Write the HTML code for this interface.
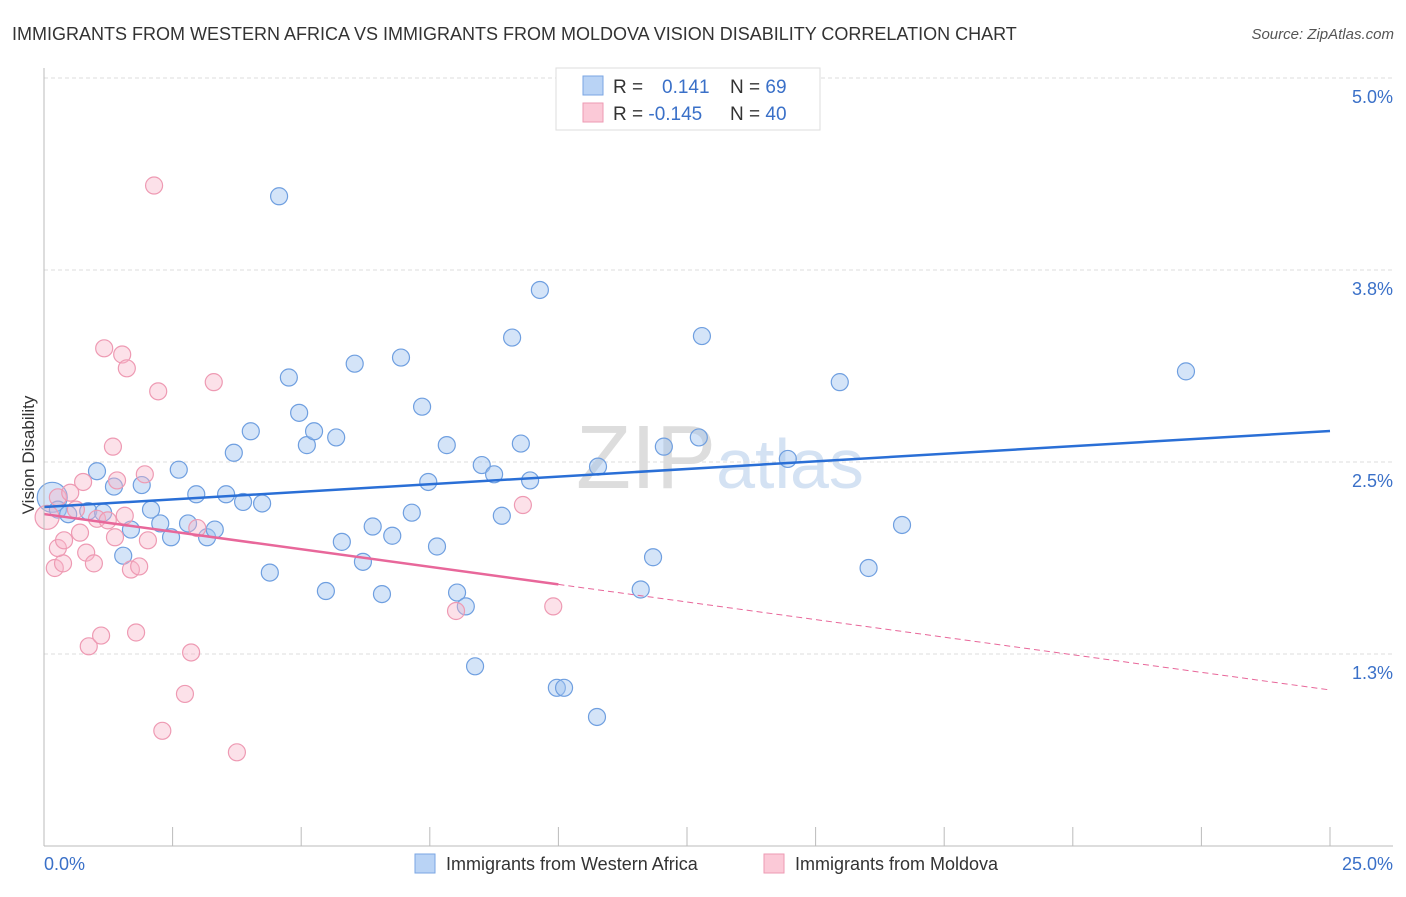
<!DOCTYPE html>
<html><head><meta charset="utf-8"><style>
body{margin:0;background:#fff;font-family:"Liberation Sans",sans-serif;}
svg text{font-family:"Liberation Sans",sans-serif;}
</style></head><body>
<svg width="1406" height="892" id="c">
<text x="12" y="40" font-size="18" fill="#333">IMMIGRANTS FROM WESTERN AFRICA VS IMMIGRANTS FROM MOLDOVA VISION DISABILITY CORRELATION CHART</text>
<text x="1394" y="39" font-size="15" fill="#555" font-style="italic" text-anchor="end">Source: ZipAtlas.com</text>
<text x="720" y="488" font-size="90" fill="#e3e3e3" text-anchor="middle" font-family="Liberation Serif"><tspan fill="#dddddd">ZIP</tspan><tspan fill="#d4e2f3" font-family="Liberation Sans" font-size="70">atlas</tspan></text>
<text transform="translate(34,455) rotate(-90)" font-size="17" fill="#333" text-anchor="middle">Vision Disability</text>
<g id="grid"></g><g id="pts"></g><g id="lines"></g>
<line x1="44" y1="68" x2="44" y2="846" stroke="#bbb"/>
<line x1="44" y1="846" x2="1393" y2="846" stroke="#bbb"/>
<text x="44" y="870" font-size="18" fill="#3a70c8">0.0%</text>
<text x="1393" y="870" font-size="18" fill="#3a70c8" text-anchor="end">25.0%</text>
<g>
<rect x="556" y="68" width="264" height="62" fill="#fff" stroke="#ddd"/>
<rect x="583" y="76" width="20" height="19" fill="#b9d3f5" stroke="#7aa6e3"/>
<rect x="583" y="103" width="20" height="19" fill="#fbc9d7" stroke="#ee9ab3"/>
<text x="613" y="93" font-size="19" fill="#333">R = <tspan fill="#3a70c8" x="662">0.141</tspan><tspan x="730" fill="#333">N = </tspan><tspan fill="#3a70c8">69</tspan></text>
<text x="613" y="120" font-size="19" fill="#333">R = <tspan fill="#3a70c8">-0.145</tspan><tspan x="730" fill="#333">N = </tspan><tspan fill="#3a70c8">40</tspan></text>
</g>
<g>
<rect x="415" y="854" width="20" height="19" fill="#b9d3f5" stroke="#7aa6e3"/>
<text x="446" y="870" font-size="18" fill="#333">Immigrants from Western Africa</text>
<rect x="764" y="854" width="20" height="19" fill="#fbc9d7" stroke="#ee9ab3"/>
<text x="795" y="870" font-size="18" fill="#333">Immigrants from Moldova</text>
</g>
</svg>
<script>
const yTicks=[1.25,2.5,3.75,5.0];
const yTickLabels=["1.3%","2.5%","3.8%","5.0%"];
const xTicks=[0,2.5,5,7.5,10,12.5,15,17.5,20,22.5,25];
const blueX=[0.16,0.27,0.47,0.86,1.03,1.15,1.36,1.54,1.69,1.9,2.08,2.26,2.47,2.62,2.8,2.96,3.17,3.32,3.54,3.69,3.87,4.02,4.24,4.39,4.57,4.76,4.96,5.11,5.25,5.48,5.68,5.79,6.04,6.2,6.39,6.57,6.77,6.94,7.15,7.35,7.47,7.64,7.83,8.03,8.2,8.38,8.51,8.75,8.9,9.1,9.27,9.45,9.64,9.97,10.11,10.75,10.77,11.6,11.84,12.05,12.73,12.79,13.4,14.46,15.47,16.03,16.68,22.2];
const blueY=[2.27,2.19,2.16,2.18,2.44,2.17,2.34,1.89,2.06,2.35,2.19,2.10,2.01,2.45,2.10,2.29,2.01,2.06,2.29,2.56,2.24,2.70,2.23,1.78,4.23,3.05,2.82,2.61,2.70,1.66,2.66,1.98,3.14,1.85,2.08,1.64,2.02,3.18,2.17,2.86,2.37,1.95,2.61,1.65,1.56,1.17,2.48,2.42,2.15,3.31,2.62,2.38,3.62,1.03,1.03,0.84,2.47,1.67,1.88,2.60,2.66,3.32,4.75,2.52,3.02,1.81,2.09,3.09];
const pinkX=[0.06,0.21,0.27,0.37,0.27,0.39,0.51,0.62,0.7,0.76,0.82,0.87,0.97,1.03,1.11,1.17,1.24,1.34,1.38,1.42,1.52,1.57,1.61,1.69,1.79,1.85,1.96,2.02,2.14,2.22,2.3,2.74,2.86,2.98,3.3,3.75,8.01,9.31,9.9];
const pinkY=[2.14,1.81,2.27,1.84,1.94,1.99,2.30,2.19,2.04,2.37,1.91,1.30,1.84,2.13,1.37,3.24,2.12,2.60,2.01,2.38,3.20,2.15,3.11,1.80,1.39,1.82,2.42,1.99,4.30,2.96,0.75,0.99,1.26,2.07,3.02,0.61,1.53,2.22,1.56];
const blueTrend=[2.207,2.702];
const pinkTrend=[2.161,1.016];
const pinkSolidEnd=10;
const X=v=>44+v/25*1286, Y=v=>846-v/5*768;
const NS="http://www.w3.org/2000/svg";
function mk(t,a,p){const e=document.createElementNS(NS,t);for(const k in a)e.setAttribute(k,a[k]);p.appendChild(e);return e;}
const g=document.getElementById('grid');
yTicks.forEach((v,i)=>{
 const l=mk('line',{x1:44,x2:1393,y1:Y(v),y2:Y(v),stroke:'#ddd','stroke-dasharray':'4,3'},g);
 
 
 const t=mk('text',{x:1393,y:Y(v)+25,'font-size':18,fill:'#3a70c8','text-anchor':'end'},g);
 t.textContent=yTickLabels[i];
 
 
});
xTicks.forEach(v=>{
 const l=mk('line',{x1:X(v),x2:X(v),y1:827,y2:846,stroke:'#bbb'},g);
 
 
});
const p=document.getElementById('pts');
blueX.forEach((x,i)=>{
 const c=mk('circle',{cx:X(x),cy:Y(blueY[i]),r:i==0?15:8.5,fill:'rgba(160,195,240,0.45)',stroke:'#6f9fe0','stroke-width':1.2},p);
 
 
});
pinkX.forEach((x,i)=>{
 const c=mk('circle',{cx:X(x),cy:Y(pinkY[i]),r:i==0?12:8.5,fill:'rgba(248,180,200,0.4)',stroke:'#ee9ab3','stroke-width':1.2},p);
 
 
});
const L=document.getElementById('lines');
let b=mk('line',{x1:X(0),y1:Y(blueTrend[0]),x2:X(25),y2:Y(blueTrend[1]),stroke:'#2a6fd6','stroke-width':2.5},L);


const pm=pinkTrend[0]+(pinkTrend[1]-pinkTrend[0])*pinkSolidEnd/25;
let a=mk('line',{x1:X(0),y1:Y(pinkTrend[0]),x2:X(pinkSolidEnd),y2:Y(pm),stroke:'#e8679a','stroke-width':2.5},L);


let d=mk('line',{x1:X(pinkSolidEnd),y1:Y(pm),x2:X(25),y2:Y(pinkTrend[1]),stroke:'#e8679a','stroke-width':1,'stroke-dasharray':'6,4'},L);


</script>
</body></html>
